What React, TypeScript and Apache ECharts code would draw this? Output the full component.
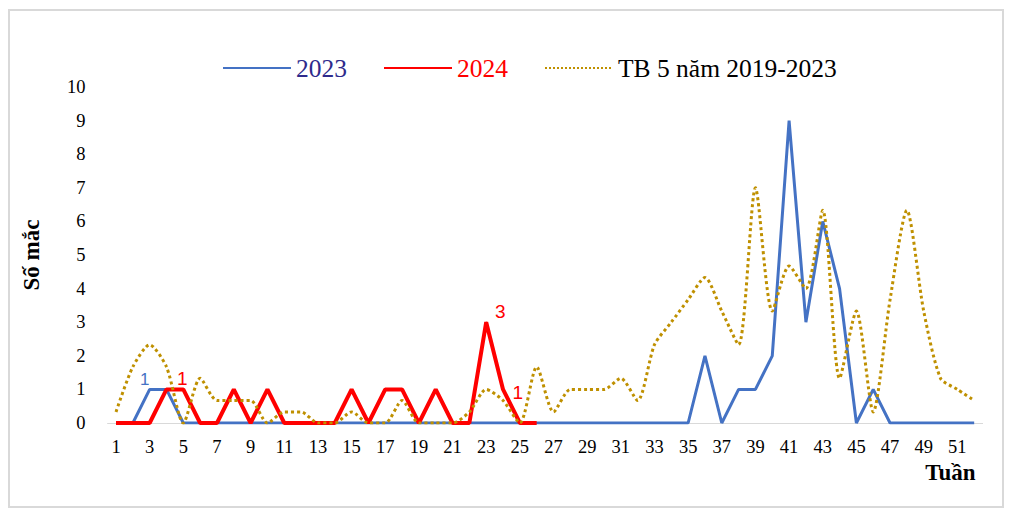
import React, { useEffect, useRef } from "react";
import * as echarts from "echarts";

const weeks = [
  "1", "2", "3", "4", "5", "6", "7", "8", "9", "10",
  "11", "12", "13", "14", "15", "16", "17", "18", "19", "20",
  "21", "22", "23", "24", "25", "26", "27", "28", "29", "30",
  "31", "32", "33", "34", "35", "36", "37", "38", "39", "40",
  "41", "42", "43", "44", "45", "46", "47", "48", "49", "50",
  "51", "52",
];

const cases2023 = [
  0, 0, 1, 1, 0, 0, 0, 0, 0, 0,
  0, 0, 0, 0, 0, 0, 0, 0, 0, 0,
  0, 0, 0, 0, 0, 0, 0, 0, 0, 0,
  0, 0, 0, 0, 0, 2, 0, 1, 1, 2,
  9, 3, 6, 4, 0, 1, 0, 0, 0, 0,
  0, 0,
];

const cases2024 = [
  0, 0, 0, 1, 1, 0, 0, 1, 0, 1,
  0, 0, 0, 0, 1, 0, 1, 1, 0, 1,
  0, 0, 3, 1, 0, 0,
];

const avg5Years = [
  0.33, 1.67, 2.33, 1.67, 0, 1.33, 0.67, 0.67, 0.67, 0,
  0.33, 0.33, 0, 0, 0.33, 0, 0, 0.67, 0, 0,
  0, 0.33, 1, 0.67, 0, 1.67, 0.33, 1, 1, 1,
  1.33, 0.67, 2.33, 3, 3.67, 4.33, 3.33, 2.33, 7, 3.33,
  4.67, 4, 6.33, 1.33, 3.33, 0.33, 3.67, 6.33, 3.33, 1.33,
  1, 0.67,
];

const seriesNames = ["2023", "2024", "TB 5 năm 2019-2023"];

const BLUE = "#4472C4";
const RED = "#FF0000";
const GOLD = "#BF9000";

type LabelMap = Record<number, any>;

function withLabels(vals: number[], color: string, labels: LabelMap) {
  return vals.map((v, i) =>
    labels[i]
      ? {
          value: v,
          symbol: "circle",
          symbolSize: 1,
          itemStyle: { color },
          label: {
            show: true,
            formatter: String(v),
            color,
            fontFamily: "Liberation Sans",
            ...labels[i],
          },
        }
      : v
  );
}

export default function App() {
  const ref = useRef<HTMLDivElement>(null);

  useEffect(() => {
    if (!ref.current) return;
    const chart = echarts.init(ref.current, undefined, { renderer: "svg" });

    const labels2023: LabelMap = {
      2: { position: "top", distance: 1, offset: [-5, 0], fontSize: 17 },
    };
    const labels2024: LabelMap = {
      4: { position: "top", distance: 1, offset: [-1, 0], fontSize: 19 },
      22: { position: "top", distance: 1, offset: [14, 0], fontSize: 19 },
      23: { position: "right", distance: 9, offset: [0, 3], fontSize: 19 },
    };

    chart.setOption({
      animation: false,
      backgroundColor: "#FFFFFF",
      textStyle: { fontFamily: "Liberation Serif" },
      legend: {
        left: 217,
        top: 50,
        itemWidth: 68,
        itemHeight: 14,
        itemGap: 36,
        itemStyle: { opacity: 0 },
        textStyle: { fontSize: 25.5, fontFamily: "Liberation Serif" },
        data: [
          { name: seriesNames[0], textStyle: { color: "#2E2A8C" } },
          { name: seriesNames[1], textStyle: { color: RED } },
          { name: seriesNames[2], textStyle: { color: "#000000" } },
        ],
      },
      grid: { left: 107.6, top: 87, width: 875, height: 336 },
      xAxis: {
        type: "category",
        data: weeks,
        boundaryGap: true,
        axisLine: { lineStyle: { color: "#D9D9D9", width: 1 } },
        axisTick: { show: false },
        axisLabel: {
          interval: 1,
          fontSize: 18.5,
          color: "#000000",
          margin: 14,
          fontFamily: "Liberation Serif",
        },
        name: "Tuần",
        nameLocation: "end",
        nameGap: -7,
        nameTextStyle: {
          align: "right",
          verticalAlign: "top",
          fontSize: 23,
          fontWeight: "bold",
          color: "#000000",
          fontFamily: "Liberation Serif",
          padding: [38, 0, 0, 0],
        },
      },
      yAxis: {
        type: "value",
        min: 0,
        max: 10,
        interval: 1,
        splitLine: { show: false },
        axisLine: { show: false },
        axisTick: { show: false },
        axisLabel: {
          fontSize: 18.5,
          color: "#000000",
          margin: 22,
          fontFamily: "Liberation Serif",
        },
        name: "Số mắc",
        nameLocation: "middle",
        nameRotate: 90,
        nameGap: 65,
        nameTextStyle: {
          fontSize: 23,
          fontWeight: "bold",
          color: "#000000",
          fontFamily: "Liberation Serif",
        },
      },
      series: [
        {
          name: seriesNames[0],
          type: "line",
          symbol: "none",
          data: withLabels(cases2023, BLUE, labels2023),
          lineStyle: { color: BLUE, width: 3 },
          itemStyle: { color: BLUE },
        },
        {
          name: seriesNames[1],
          type: "line",
          symbol: "none",
          data: withLabels(cases2024, RED, labels2024),
          lineStyle: { color: RED, width: 4 },
          itemStyle: { color: RED },
        },
        {
          name: seriesNames[2],
          type: "line",
          symbol: "none",
          smooth: 0.25,
          data: avg5Years,
          lineStyle: { color: GOLD, width: 3, type: "dotted" },
          itemStyle: { color: GOLD },
        },
      ],
      graphic: [
        {
          type: "rect",
          silent: true,
          z: -10,
          shape: { x: 9, y: 10, width: 994, height: 497 },
          style: { fill: "none", stroke: "#D9D9D9", lineWidth: 2 },
        },
      ],
    });

    return () => chart.dispose();
  }, []);

  return (
    <div
      ref={ref}
      style={{ position: "fixed", left: 0, top: 0, width: 1013, height: 518 }}
    />
  );
}
